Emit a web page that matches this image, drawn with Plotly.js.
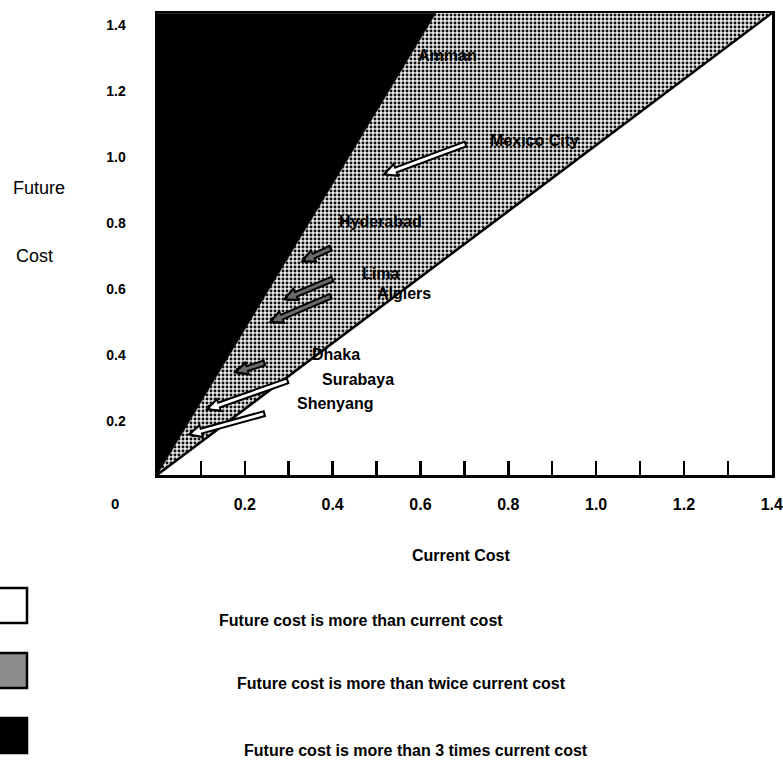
<!DOCTYPE html>
<html>
<head>
<meta charset="utf-8">
<script src="https://cdn.plot.ly/plotly-3.0.1.min.js"></script>
<style>html,body{margin:0;padding:0;background:#fff}#chart{width:783px;height:760px}</style>
</head>
<body>
<div id="chart"></div>
<script>
// ---------------- data ----------------
const cities        = ['Mexico City','Hyderabad','Lima','Algiers','Dhaka','Surabaya','Shenyang'];
const fromCurrent   = [0.708, 0.401, 0.405, 0.401, 0.250, 0.303, 0.250];
const fromFuture    = [1.006, 0.691, 0.597, 0.545, 0.342, 0.288, 0.188];
const toCurrent     = [0.512, 0.326, 0.285, 0.253, 0.173, 0.109, 0.068];
const toFuture      = [0.909, 0.645, 0.530, 0.461, 0.309, 0.197, 0.121];
const extraCity     = ['Amman'];
const extraCurrent  = [0.662];
const extraFuture   = [1.273];
// region boundaries (future = current, and the steep boundary)
const equalLineX    = [0, 1.4];
const equalLineY    = [0, 1.4];
const steepLineX    = [0, 0.635];
const steepLineY    = [0, 1.4];
const axisMax       = 1.4;
const xTickVals     = [0.2, 0.4, 0.6, 0.8, 1.0, 1.2, 1.4];
const xTickText     = ['0.2','0.4','0.6','0.8','1.0','1.2','1.4'];
const xMinorVals    = [0.1, 0.3, 0.5, 0.7, 0.9, 1.1, 1.3];
const yTickVals     = [0.2, 0.4, 0.6, 0.8, 1.0, 1.2, 1.4];
const yTickText     = ['0.2','0.4','0.6','0.8','1.0','1.2','1.4'];
const legendTexts   = ['Future cost is more than current cost',
                       'Future cost is more than twice current cost',
                       'Future cost is more than 3 times current cost'];

// ---------------- styles ----------------
const FONT = 'Liberation Sans, Arial, sans-serif';
const W = 783, H = 760;
const M = {l:157, r:11, t:13, b:285};
const plotW = W - M.l - M.r, plotH = H - M.t - M.b;
const px = x => (x - M.l) / plotW;        // page px -> paper x
const py = y => (H - M.b - y) / plotH;    // page px -> paper y
const rangeMax = axisMax * 1.0004;

const innerColor = {'Mexico City':'#ffffff','Hyderabad':'#6a6a6a','Lima':'#6a6a6a','Algiers':'#6a6a6a',
                    'Dhaka':'#6a6a6a','Surabaya':'#ffffff','Shenyang':'#ffffff'};
const labelShift = {'Mexico City':[20,3],'Hyderabad':[4,26],'Lima':[25,5],'Algiers':[42,2],
                    'Dhaka':[43,8],'Surabaya':[30,1],'Shenyang':[28,9]};

// ---------------- traces ----------------
const grayRegion = {
  x: [equalLineX[0], equalLineX[1], steepLineX[1], steepLineX[0]],
  y: [equalLineY[0], equalLineY[1], steepLineY[1], steepLineY[0]],
  type:'scatter', mode:'lines', fill:'toself', line:{width:0, color:'rgba(0,0,0,0)'},
  fillcolor:'#a0a0a0',
  fillpattern:{shape:'.', fgcolor:'#111', bgcolor:'#ececec', size:4, solidity:0.42},
  hoverinfo:'skip', showlegend:false
};
const darkRegion = {
  x: [steepLineX[0], steepLineX[1], steepLineX[0], steepLineX[0]],
  y: [steepLineY[0], steepLineY[1], steepLineY[1], steepLineY[0]],
  type:'scatter', mode:'lines', fill:'toself', line:{width:0.5, color:'#000'},
  fillcolor:'#000', hoverinfo:'skip', showlegend:false
};
const diagonal = {
  x: equalLineX, y: equalLineY, type:'scatter', mode:'lines',
  line:{color:'#000', width:2.5}, hoverinfo:'skip', showlegend:false
};

// ---------------- annotations ----------------
const ann = [];
cities.forEach((c,i) => {
  ann.push({x:toCurrent[i], y:toFuture[i], ax:fromCurrent[i], ay:fromFuture[i],
    xref:'x', yref:'y', axref:'x', ayref:'y', text:'', showarrow:true,
    arrowhead:2, arrowwidth:7, arrowsize:0.45, arrowcolor:'#000'});
});
cities.forEach((c,i) => {
  ann.push({x:toCurrent[i], y:toFuture[i], ax:fromCurrent[i], ay:fromFuture[i],
    xref:'x', yref:'y', axref:'x', ayref:'y', text:'', showarrow:true,
    arrowhead:2, arrowwidth:3, arrowsize:0.6, arrowcolor:innerColor[c], standoff:5, startstandoff:2});
});
cities.forEach((c,i) => {
  ann.push({x:fromCurrent[i], y:fromFuture[i], xref:'x', yref:'y', text:c, showarrow:false,
    xanchor:'left', yanchor:'middle', xshift:labelShift[c][0], yshift:labelShift[c][1],
    font:{family:FONT, size:16, color:'#000', weight:'bold'}});
});
extraCity.forEach((c,i) => {
  ann.push({x:extraCurrent[i], y:extraFuture[i], xref:'x', yref:'y', text:c, showarrow:false,
    xanchor:'center', yanchor:'middle', font:{family:FONT, size:16, color:'#000', weight:'bold'}});
});
// origin label and axis titles
ann.push({x:px(115), y:py(503), xref:'paper', yref:'paper', text:'0', showarrow:false,
  xanchor:'center', yanchor:'middle', font:{family:FONT, size:15, color:'#000', weight:'bold'}});
ann.push({x:px(39), y:py(188), xref:'paper', yref:'paper', text:'Future', showarrow:false,
  xanchor:'center', yanchor:'middle', font:{family:FONT, size:18, color:'#000'}});
ann.push({x:px(34), y:py(256), xref:'paper', yref:'paper', text:'Cost', showarrow:false,
  xanchor:'center', yanchor:'middle', font:{family:FONT, size:18, color:'#000'}});
ann.push({x:px(410), y:py(555), xref:'paper', yref:'paper', text:'Current Cost', showarrow:false,
  xanchor:'left', yanchor:'middle', font:{family:FONT, size:16, color:'#000', weight:'bold'}});
// legend
const legendTextLeft = [217, 235, 242];
const legendRowY = [620, 683, 750];
const legendBoxTop = [588, 653, 718];
const boxFills = ['#ffffff', '#8c8c8c', '#000000'];
const shapes = [];
legendTexts.forEach((t,i) => {
  ann.push({x:px(legendTextLeft[i]), y:py(legendRowY[i]), xref:'paper', yref:'paper', text:t,
    showarrow:false, xanchor:'left', yanchor:'middle',
    font:{family:FONT, size:16, color:'#000', weight:'bold'}});
  shapes.push({type:'rect', xref:'paper', yref:'paper', x0:px(-4), x1:px(27),
    y0:py(legendBoxTop[i]+35), y1:py(legendBoxTop[i]),
    fillcolor:boxFills[i], line:{color:'#000', width:2.5}});
});

const layout = {
  width:W, height:H, margin:M, paper_bgcolor:'#fff', plot_bgcolor:'#fff',
  showlegend:false,
  font:{family:FONT, color:'#000'},
  xaxis:{range:[0, rangeMax], showgrid:false, zeroline:false, showline:true, mirror:true,
    linecolor:'#000', linewidth:2.5, ticks:'inside', ticklen:14, tickwidth:2.5, tickcolor:'#000',
    tickvals:xTickVals, ticktext:xTickText, ticklabelstandoff:13, ticklabeloverflow:'allow',
    tickfont:{family:FONT, size:16, color:'#000', weight:'bold'},
    minor:{tickvals:xMinorVals, ticks:'inside', ticklen:14, tickwidth:2.5, tickcolor:'#000'},
    fixedrange:true},
  yaxis:{range:[0, rangeMax], showgrid:false, zeroline:false, showline:true, mirror:true,
    linecolor:'#000', linewidth:2.5, ticks:'', tickvals:yTickVals, ticktext:yTickText,
    ticklabelstandoff:26, ticklabelshift:12, ticklabeloverflow:'allow',
    tickfont:{family:FONT, size:14, color:'#000', weight:'bold'}, fixedrange:true},
  annotations:ann, shapes:shapes
};

Plotly.newPlot('chart', [grayRegion, darkRegion, diagonal], layout, {displayModeBar:false, staticPlot:true});
</script>
</body>
</html>
